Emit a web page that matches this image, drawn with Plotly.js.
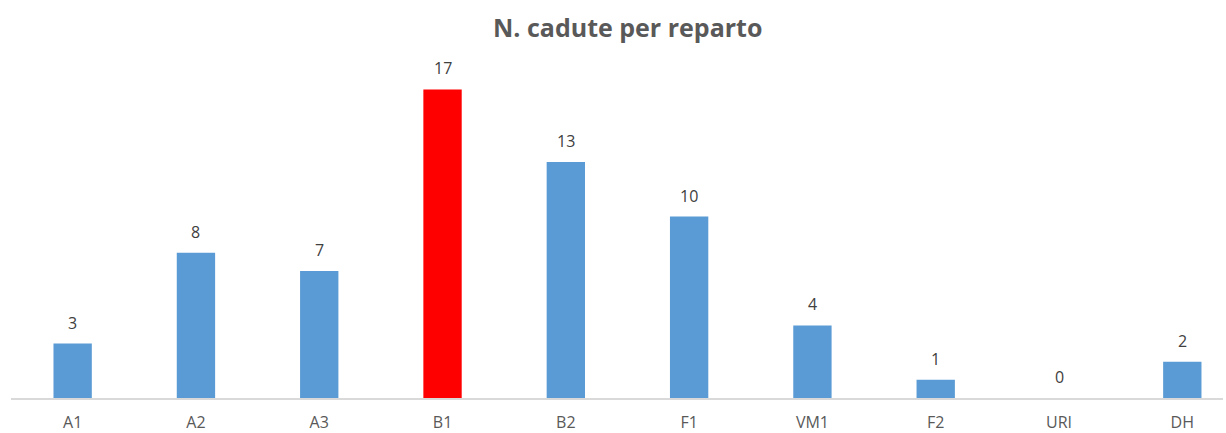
<!DOCTYPE html>
<html>
<head>
<meta charset="utf-8">
<script src="https://cdn.plot.ly/plotly-3.0.1.min.js"></script>
<style>html,body{margin:0;padding:0;background:#fff;}#chart{width:1226px;height:433px;}</style>
</head>
<body>
<div id="chart"></div>
<script>
const categories = ["A1", "A2", "A3", "B1", "B2", "F1", "VM1", "F2", "URI", "DH"];
const values = [3, 8, 7, 17, 13, 10, 4, 1, 0, 2];
const highlight = "B1";
const chartTitle = "N. cadute per reparto";

const colors = categories.map(c => c === highlight ? "#FF0000" : "#5B9BD5");

const trace = {
  type: "bar",
  x: categories,
  y: values,
  marker: { color: colors },
  cliponaxis: false,
  hoverinfo: "x+y"
};

const labelAnnotations = categories.map((c, i) => ({
  x: c,
  y: values[i],
  xref: "x",
  yref: "y",
  text: String(values[i]),
  showarrow: false,
  yanchor: "bottom",
  yshift: 8,
  font: { family: "Open Sans, sans-serif", size: 16, color: "#404040" }
}));

const layout = {
  width: 1226,
  height: 433,
  margin: { l: 11, r: 3, t: 35, b: 35 },
  paper_bgcolor: "#ffffff",
  plot_bgcolor: "#ffffff",
  bargap: 0.689,
  showlegend: false,
  annotations: labelAnnotations,
  title: {
    text: "<b>" + chartTitle + "</b>",
    font: { family: "Open Sans, sans-serif", size: 25, color: "#595959" },
    x: 0.512, xref: "container", xanchor: "center",
    y: 1 - 28 / 433, yref: "container", yanchor: "middle"
  },
  xaxis: {
    type: "category",
    range: [-0.5, 9.33],
    showgrid: false,
    showline: true,
    linecolor: "#D9D9D9",
    linewidth: 2,
    ticks: "",
    tickfont: { family: "Open Sans, sans-serif", size: 16, color: "#595959" },
    ticklabelstandoff: 9,
    zeroline: false
  },
  yaxis: {
    range: [0, 20],
    visible: false,
    showgrid: false,
    zeroline: false
  }
};

Plotly.newPlot("chart", [trace], layout, { displayModeBar: false, staticPlot: true });
</script>
</body>
</html>
